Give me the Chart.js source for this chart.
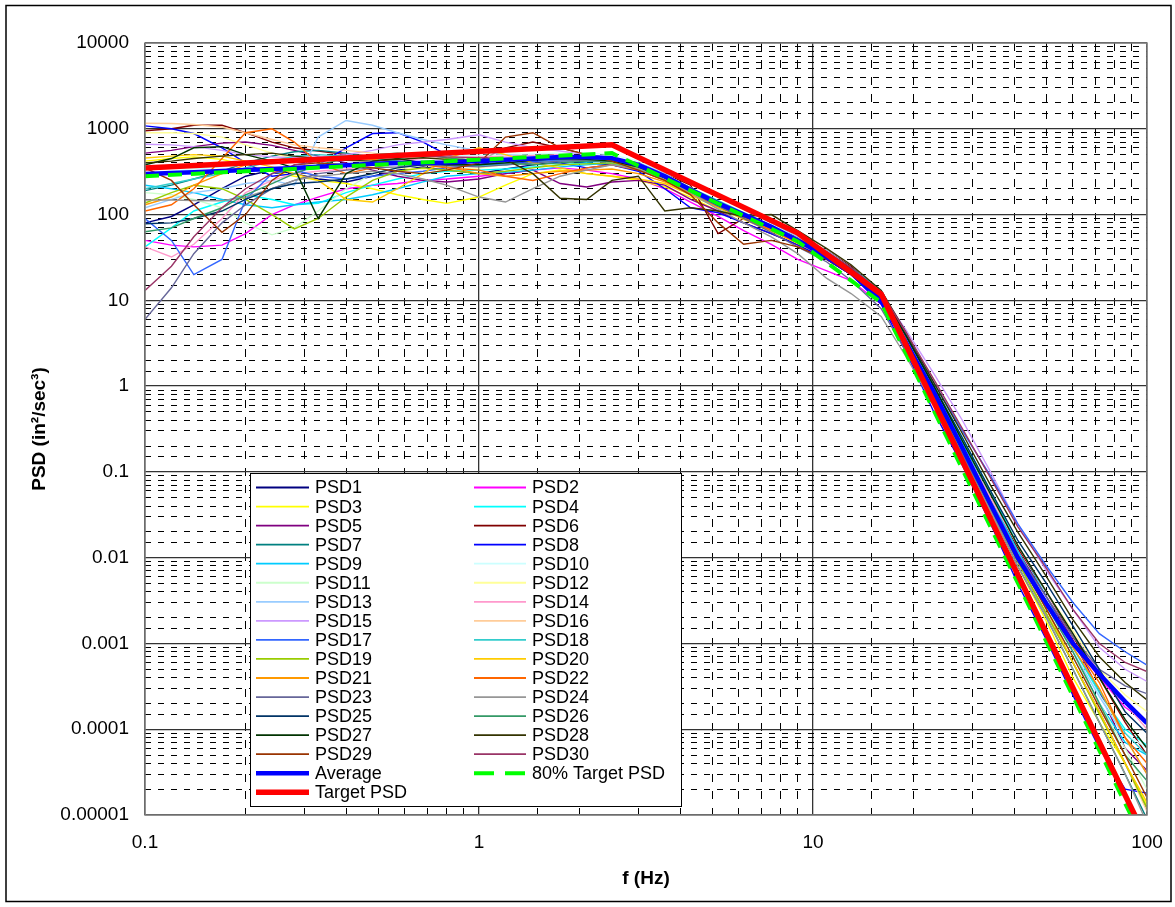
<!DOCTYPE html>
<html>
<head>
<meta charset="utf-8">
<script src="https://cdn.jsdelivr.net/npm/chart.js@4.4.1/dist/chart.umd.min.js"></script>
<style>
  html, body { margin: 0; padding: 0; background: #fff; }
  #wrap { position: relative; width: 1175px; height: 907px; }
</style>
</head>
<body>
<div id="wrap"><canvas id="psdChart"></canvas></div>
<script>
// frequencies (Hz) shared by the 30 measured PSDs and the average
const freq = [0.1, 0.12, 0.14, 0.17, 0.2, 0.24, 0.28, 0.33, 0.4, 0.48, 0.57, 0.68, 0.8, 1,
  1.2, 1.45, 1.75, 2.1, 2.5, 3, 3.6, 4.3, 5.2, 6.2, 7.5, 9,
  11, 13, 16, 19, 23, 28, 34, 41, 50, 60, 72, 86, 100];

const psd1 = [80,95,130,200,280,330,300,260,240,280,330,360,330,300, 340,380,420,400,380,330,260,180,120,95,68,48, 30,20,10,3.3,0.8,0.17,0.04,0.009,0.0022,0.0006,0.00016,0.00004,0.000012];
const psd2 = [50,44,42,44,60,100,130,160,200,220,230,250,260,280, 300,330,350,330,300,260,200,140,95,65,45,30, 22,17,9,3,0.7,0.15,0.035,0.009,0.003,0.001,0.0004,0.00018,0.00012];
const psd3 = [420,450,470,440,380,320,280,250,230,200,170,150,135,160, 220,300,330,300,280,250,210,160,110,80,60,45, 30,22,11,3.5,0.8,0.17,0.035,0.008,0.0018,0.0004,0.00012,0.00004,0.000013];
const psd4 = [42,70,110,140,170,150,130,135,180,220,260,300,320,330, 340,360,380,400,390,340,250,170,120,90,66,48, 36,24,12,4,1,0.25,0.06,0.014,0.0035,0.0009,0.00026,0.0001,0.000065];
const psd5 = [520,560,620,680,700,640,560,480,400,330,280,250,240,260, 300,330,230,210,240,250,220,150,110,80,60,44, 30,20,10,3,0.75,0.18,0.045,0.012,0.0035,0.0011,0.00028,0.00006,0.000033];
const psd6 = [950,1000,1100,1100,900,700,600,550,500,450,420,400,380,420, 600,700,600,500,450,400,300,220,60,90,70,55, 38,25,12,3.5,0.8,0.2,0.05,0.013,0.004,0.0012,0.0004,0.00012,0.00005];
const psd7 = [190,220,260,320,400,480,540,560,520,470,430,400,380,380, 400,420,440,450,440,370,270,190,130,95,70,48, 33,21,10.5,3.1,0.75,0.16,0.036,0.008,0.002,0.0005,0.00012,0.00003,0.000009];
const psd8 = [1080,1000,880,600,400,280,300,380,600,880,900,700,500,400, 380,420,400,350,380,320,200,120,105,80,60,45, 30,20,9,2.5,0.5,0.12,0.025,0.005,0.0011,0.00025,0.00006,0.00002,0.000018];
const psd9 = [220,200,180,150,130,120,130,140,150,170,200,240,280,300, 310,330,360,380,400,350,260,180,130,100,74,52, 36,24,13,4,1,0.22,0.05,0.012,0.003,0.0008,0.0002,0.00007,0.00005];
const psd10 = [300,320,340,360,380,400,420,430,440,450,460,470,480,490, 500,510,520,520,500,420,300,200,140,100,75,52, 35,22,11,3.4,0.8,0.18,0.04,0.01,0.0028,0.0008,0.00025,0.00009,0.00006];
const psd11 = [180,170,150,120,80,58,70,110,200,300,350,380,400,420, 440,450,470,480,460,390,290,200,140,100,72,50, 33,21,10.5,3.2,0.8,0.18,0.04,0.01,0.0025,0.0007,0.0002,0.00006,0.00002];
const psd12 = [900,900,880,800,650,520,450,400,380,360,350,340,330,350, 380,400,420,420,410,350,260,180,125,90,65,46, 32,20,10,3.3,0.85,0.2,0.05,0.014,0.004,0.0014,0.0005,0.00025,0.00016];
const psd13 = [120,150,180,200,230,250,220,800,1250,1100,900,750,650,550, 500,480,470,460,450,400,300,240,170,115,80,55, 38,24,12,3.6,0.9,0.2,0.045,0.011,0.0028,0.0008,0.00024,0.00008,0.00003];
const psd14 = [42,32,45,90,180,250,300,320,340,380,420,450,460,470, 480,490,500,480,460,390,290,200,135,95,68,48, 32,21,11,3.3,0.8,0.2,0.05,0.014,0.004,0.0013,0.00045,0.0002,0.0001];
const psd15 = [660,650,620,560,500,470,460,470,500,560,650,700,750,850, 700,600,550,500,460,380,280,190,135,100,70,50, 35,23,12,4.5,1.4,0.4,0.1,0.025,0.007,0.0025,0.0009,0.0005,0.00036];
const psd16 = [1160,1150,1120,1050,900,750,650,600,560,520,480,460,450,440, 430,440,460,470,460,390,290,205,140,100,72,52, 36,23,11.5,3.4,0.8,0.17,0.038,0.009,0.0022,0.0006,0.00016,0.00004,0.000011];
const psd17 = [90,50,20,30,150,300,330,280,260,280,300,320,350,380, 400,420,430,420,410,350,260,185,130,95,68,48, 35,23,12,3.8,1.1,0.3,0.09,0.025,0.008,0.003,0.0013,0.0008,0.00056];
const psd18 = [200,230,260,300,350,420,480,500,480,450,420,400,380,370, 380,400,420,430,430,380,290,205,145,105,75,52, 35,22,11,3.4,0.85,0.19,0.045,0.011,0.003,0.0009,0.00028,0.00009,0.00005];
const psd19 = [136,180,220,200,150,100,68,90,160,250,320,350,330,300, 320,350,380,390,400,350,260,180,125,92,66,47, 33,21,10.5,3.2,0.78,0.17,0.038,0.009,0.0022,0.0006,0.00015,0.00004,0.000012];
const psd20 = [457,480,500,480,420,360,300,250,150,140,200,300,450,600, 500,400,350,300,280,260,230,170,120,88,64,46, 32,21,10.5,3.2,0.8,0.18,0.04,0.01,0.0025,0.0006,0.00016,0.00004,0.000014];
const psd21 = [130,160,220,300,380,420,440,460,460,440,400,380,360,300, 280,300,320,330,340,300,240,175,125,92,66,47, 34,22,11,3.4,0.85,0.2,0.045,0.011,0.003,0.0009,0.0003,0.00008,0.00003];
const psd22 = [110,130,200,450,900,1000,700,400,300,350,400,380,350,330, 280,250,300,350,380,330,250,180,125,90,66,47, 33,22,11,3.3,0.8,0.18,0.04,0.01,0.003,0.001,0.00035,0.00008,0.00004];
const psd23 = [6,14,35,80,130,200,250,300,330,350,360,380,370,360, 380,400,420,430,420,360,270,185,125,90,62,42, 28,17,8,2.5,0.65,0.16,0.04,0.011,0.0035,0.0012,0.0005,0.00032,0.00026];
const psd24 = [148,148,146,145,160,200,250,280,300,320,300,260,220,160, 140,200,280,330,380,340,260,180,115,80,55,35, 18,12,6.5,2.2,0.6,0.15,0.035,0.008,0.002,0.0005,0.00012,0.00003,0.000008];
const psd25 = [78,80,90,110,150,200,230,240,260,300,350,380,400,420, 430,440,460,460,440,370,270,190,130,95,70,50, 36,23,12,3.8,1,0.25,0.06,0.016,0.005,0.0016,0.0005,0.00016,0.00009];
const psd26 = [63,70,90,120,170,230,300,380,450,500,520,500,460,420, 400,380,400,420,420,360,270,190,130,96,70,50, 34,22,11,3.3,0.8,0.18,0.04,0.01,0.0028,0.0008,0.0002,0.00005,0.000025];
const psd27 = [380,450,600,620,500,420,350,90,300,420,450,400,380,380, 400,430,450,440,420,360,270,190,135,98,72,50, 36,24,12,3.9,1,0.23,0.055,0.014,0.004,0.0013,0.0004,0.00013,0.00006];
const psd28 = [400,420,450,480,500,520,480,450,430,420,440,460,440,420, 440,300,155,150,250,280,110,120,110,95,100,65, 40,26,13,4.2,1.1,0.28,0.07,0.02,0.006,0.0019,0.0007,0.00035,0.00022];
const psd29 = [350,250,130,62,100,250,380,400,380,350,320,300,330,400, 800,900,600,500,420,330,250,170,80,45,50,42, 30,20,10,3.2,0.8,0.18,0.04,0.01,0.0025,0.0007,0.00018,0.00005,0.000016];
const psd30 = [13,25,55,120,200,300,380,420,450,460,470,480,470,460, 450,440,460,470,450,380,280,195,135,100,72,52, 37,24,12.5,4.2,1.2,0.32,0.085,0.023,0.0075,0.0025,0.001,0.0006,0.00047];

const avgPSD = [297,305,312,322,330,340,350,360,375,390,398,400,405,420, 435,450,470,470,455,380,280,195,135,100,72,50, 32,21,10,3.2,0.85,0.19,0.042,0.01,0.0029,0.001,0.00044,0.00021,0.000118];

// target spectrum break points
const targetFreq = [0.1, 2.5, 9, 16, 100];
const targetPSD = [350, 650, 60.8, 11.8, 0.0000051];
const target80PSD = [280, 520, 48.6, 9.44, 0.0000041];

const xTickLabels = ['0.1', '1', '10', '100'];
const yTickLabels = ['0.00001', '0.0001', '0.001', '0.01', '0.1', '1', '10', '100', '1000', '10000'];

const psdSeries = [psd1, psd2, psd3, psd4, psd5, psd6, psd7, psd8, psd9, psd10,
  psd11, psd12, psd13, psd14, psd15, psd16, psd17, psd18, psd19, psd20,
  psd21, psd22, psd23, psd24, psd25, psd26, psd27, psd28, psd29, psd30];

const psdColors = ['#000080', '#FF00FF', '#FFFF00', '#00FFFF', '#800080', '#800000', '#008080', '#0000FF',
  '#00CCFF', '#CCFFFF', '#CCFFCC', '#FFFF99', '#99CCFF', '#FF99CC', '#CC99FF', '#FFCC99',
  '#3366FF', '#33CCCC', '#99CC00', '#FFCC00', '#FF9900', '#FF6600', '#666699', '#969696',
  '#003366', '#339966', '#003300', '#333300', '#993300', '#993366'];

const FONT = "Arial, 'Liberation Sans', sans-serif";

function isDecade(v) {
  const l = Math.log10(v);
  return Math.abs(l - Math.round(l)) < 1e-6;
}

function pairs(xs, ys) {
  return xs.map((x, i) => ({ x: x, y: ys[i] }));
}

const datasets = psdSeries.map((vals, i) => ({
  label: 'PSD' + (i + 1),
  data: pairs(freq, vals),
  borderColor: psdColors[i],
  borderWidth: 1.4,
  order: 33 - i
}));

datasets.push({
  label: 'Average',
  data: pairs(freq, avgPSD),
  borderColor: '#0000FF',
  borderWidth: 4.5,
  order: 2
});
datasets.push({
  label: '80% Target PSD',
  data: pairs(targetFreq, target80PSD),
  borderColor: '#00FF00',
  borderWidth: 4,
  borderDash: [14, 9],
  order: 1
});
datasets.push({
  label: 'Target PSD',
  data: pairs(targetFreq, targetPSD),
  borderColor: '#FF0000',
  borderWidth: 5.5,
  order: 0
});

// plot frame, outer border and the two-column legend inside the plot
const framePlugin = {
  id: 'frame',
  beforeDraw(chart) {
    const c = chart.ctx;
    c.save();
    c.fillStyle = '#fff';
    c.fillRect(0, 0, chart.width, chart.height);
    c.restore();
  },
  afterDatasetsDraw(chart) {
    const c = chart.ctx;
    const a = chart.chartArea;
    c.save();
    c.strokeStyle = '#808080';
    c.lineWidth = 1.5;
    c.strokeRect(a.left, a.top, a.right - a.left, a.bottom - a.top);
    c.restore();
  },
  afterDraw(chart) {
    const c = chart.ctx;
    c.save();
    c.strokeStyle = '#000';
    c.lineWidth = 1.5;
    c.strokeRect(6, 5.5, 1165, 896);

    // legend box
    c.fillStyle = '#fff';
    c.fillRect(250.5, 473.5, 431, 333);
    c.lineWidth = 1;
    c.strokeRect(250.5, 473.5, 431, 333);

    const cols = [{ x0: 256, x1: 309, tx: 315 }, { x0: 474, x1: 526, tx: 532 }];
    c.font = '18px ' + FONT;
    c.textBaseline = 'middle';
    c.textAlign = 'left';
    chart.data.datasets.forEach((ds, k) => {
      const col = cols[k % 2];
      const y = 487.5 + Math.floor(k / 2) * 19.05;
      c.strokeStyle = ds.borderColor;
      c.lineWidth = Math.max(ds.borderWidth, 1.8);
      c.setLineDash(ds.borderDash ? [20, 11] : []);
      c.beginPath();
      c.moveTo(col.x0, y);
      c.lineTo(col.x1, y);
      c.stroke();
      c.setLineDash([]);
      c.fillStyle = '#000';
      c.fillText(ds.label, col.tx, y + 1);
    });
    c.restore();
  }
};

const gridColor = (ctx) => (ctx.tick && isDecade(ctx.tick.value)) ? '#333' : '#000';
const gridWidth = (ctx) => (ctx.tick && isDecade(ctx.tick.value)) ? 1.3 : 1;

const ctx = document.getElementById('psdChart').getContext('2d');
const psdChart = new Chart(ctx, {
  type: 'line',
  data: { datasets: datasets },
  options: {
    responsive: true,
    maintainAspectRatio: false,
    animation: false,
    layout: { padding: { top: 43, right: 28, bottom: 0, left: 0 } },
    datasets: { line: { pointRadius: 0, tension: 0, clip: 0, fill: false } },
    plugins: {
      legend: { display: false },
      tooltip: { enabled: false }
    },
    scales: {
      x: {
        type: 'logarithmic',
        position: 'bottom',
        min: 0.1,
        max: 100,
        afterFit: (s) => { s.height = 92; s.paddingLeft = 0; s.paddingRight = 0; },
        grid: { color: gridColor, lineWidth: gridWidth, drawTicks: false },
        border: {
          display: false,
          dash: (ctx) => (ctx.tick && isDecade(ctx.tick.value)) ? [] : [8, 9]
        },
        ticks: {
          autoSkip: false,
          maxRotation: 0,
          padding: 16,
          color: '#000',
          font: { size: 19, family: FONT },
          callback: (v) => isDecade(v) ? xTickLabels[Math.round(Math.log10(v)) + 1] : ''
        },
        title: {
          display: true,
          text: 'f (Hz)',
          color: '#000',
          font: { size: 19, weight: 'bold', family: FONT },
          padding: { top: 0, bottom: 17 }
        }
      },
      y: {
        type: 'logarithmic',
        position: 'left',
        min: 0.00001,
        max: 10000,
        afterFit: (s) => { s.width = 145; s.paddingTop = 0; s.paddingBottom = 0; },
        grid: { color: gridColor, lineWidth: gridWidth, drawTicks: false },
        border: {
          display: false,
          dash: (ctx) => (ctx.tick && isDecade(ctx.tick.value)) ? [] : [6, 7]
        },
        ticks: {
          autoSkip: false,
          padding: 16,
          color: '#000',
          font: { size: 19, family: FONT },
          callback: (v) => isDecade(v) ? yTickLabels[Math.round(Math.log10(v)) + 5] : ''
        },
        title: {
          display: true,
          text: 'PSD (in²/sec³)',
          color: '#000',
          font: { size: 19, weight: 'bold', family: FONT },
          padding: { top: 28, bottom: 0 }
        }
      }
    }
  },
  plugins: [framePlugin]
});
</script>
</body>
</html>
